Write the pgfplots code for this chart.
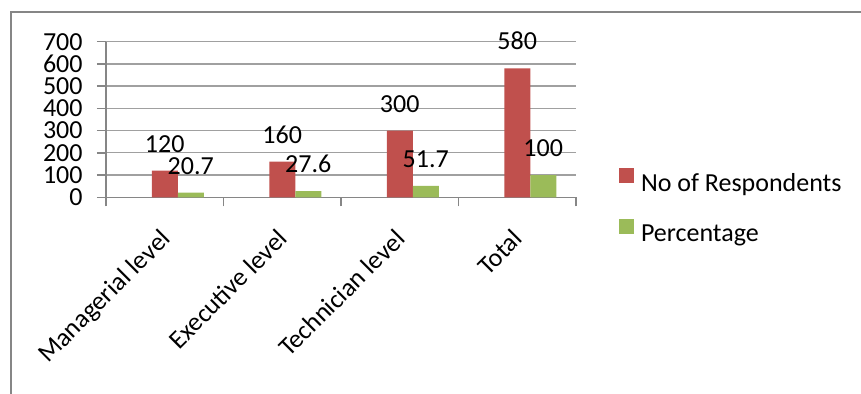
\documentclass[border=0pt]{standalone}
\usepackage{fontspec}
\setmainfont{Carlito}
\usepackage{pgfplots}
\pgfplotsset{compat=1.18}
\definecolor{barred}{RGB}{192,80,77}
\definecolor{bargreen}{RGB}{155,187,89}
\definecolor{axisgray}{RGB}{134,134,134}
\definecolor{gridgray}{RGB}{160,160,160}
\newcommand{\lblfont}{\fontsize{13}{15.6}\selectfont}

\begin{document}
\begin{tikzpicture}
% page area and the outer chart frame
\useasboundingbox (0,0) rectangle (430.5pt,197pt);
\draw[axisgray, line width=1pt] (5.5pt,-3pt) -- (5.5pt,191pt) -- (434pt,191pt);

\begin{axis}[
  at={(53pt,98.35pt)}, anchor=south west,
  scale only axis,
  width=235pt, height=77.8pt,
  xmin=-0.5, xmax=3.5,
  ymin=0, ymax=700,
  ybar=0pt, bar width=13pt,
  ytick={0,100,...,700},
  ymajorgrids,
  grid style={gridgray, line width=0.65pt},
  axis line style={axisgray, line width=0.7pt},
  axis x line*=bottom, axis y line*=left,
  tick align=outside,
  major tick length=4.5pt,
  tick style={axisgray, line width=0.7pt},
  xtick={-0.5,0.5,1.5,2.5,3.5},
  xticklabels={},
  extra x ticks={0,1,2,3},
  extra x tick labels={Managerial level,Executive level,Technician level,Total},
  extra x tick style={grid=none, major tick length=0pt,
    xticklabel style={xshift=-3pt, yshift=-15pt, rotate=45, anchor=north east, inner sep=0pt}},
  /pgf/number format/assume math mode=true,
  tick label style={font=\lblfont},
  yticklabel style={font=\lblfont, inner sep=0pt, anchor=east, xshift=-7pt},
  nodes near coords,
  every node near coord/.append style={font=\lblfont, inner sep=0pt, yshift=9pt, text=black},
  legend style={at={(1.0915,-0.059)}, anchor=west, draw=none, fill=none,
    inner sep=0pt, outer sep=0pt, row sep=12.3pt, column sep=3.5pt,
    font=\lblfont, nodes={inner sep=0pt}},
  legend cell align=left,
  legend image code/.code={\fill[#1] (0pt,0.4pt) rectangle (7.5pt,7.9pt);},
]
% respondents: bar centred on its category
\addplot[fill=barred, draw=none, bar shift=0pt]
  coordinates {(0,120) (1,160) (2,300) (3,580)};
% percentage: bar just right of it
\addplot[fill=bargreen, draw=none, bar shift=13pt]
  coordinates {(0,20.7) (1,27.6) (2,51.7) (3,100)};
\legend{No of Respondents, Percentage}
\end{axis}
\end{tikzpicture}
\end{document}
